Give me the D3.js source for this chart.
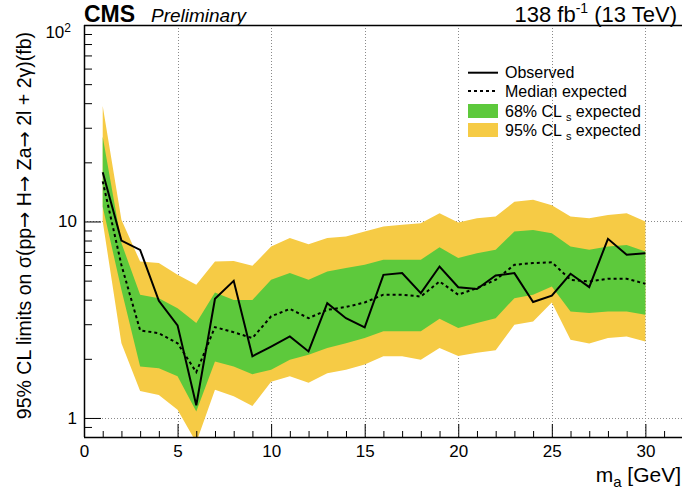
<!DOCTYPE html>
<html>
<head>
<meta charset="utf-8">
<script src="https://cdn.jsdelivr.net/npm/d3@7"></script>
<style>
  html, body { margin: 0; padding: 0; background: #fff; }
  svg { display: block; font-family: "Liberation Sans", Arial, Helvetica, sans-serif; }
</style>
</head>
<body>
<svg id="chart" width="682" height="490"></svg>
<script>
// ---- data ----
const massPoints = [1,2,3,4,5,6,7,8,9,10,11,12,13,14,15,16,17,18,19,20,21,22,23,24,25,26,27,28,29,30];
const observed = [17.8, 8.0, 7.17, 3.95, 2.96, 1.16, 4.04, 4.99, 2.06, 2.31, 2.60, 2.18, 3.84, 3.22, 2.89, 5.35, 5.46, 4.32, 5.90, 4.63, 4.53, 5.31, 5.46, 3.89, 4.19, 5.42, 4.63, 8.16, 6.77, 6.90];
const medianExpected = [16.0, 6.0, 2.79, 2.70, 2.40, 1.71, 2.90, 2.73, 2.55, 3.29, 3.59, 3.22, 3.55, 3.67, 3.87, 4.24, 4.24, 4.15, 4.95, 4.24, 4.58, 5.05, 6.02, 6.14, 6.20, 5.05, 4.95, 5.11, 5.11, 4.82];
const band68Up = [27.0, 7.76, 4.24, 4.07, 3.62, 3.04, 4.35, 3.99, 3.99, 5.05, 5.46, 5.05, 5.57, 5.79, 6.02, 6.38, 6.38, 6.38, 7.40, 6.51, 6.90, 7.17, 8.89, 9.06, 8.72, 7.45, 7.17, 7.45, 7.60, 7.03];
const band68Down = [11.9, 4.49, 1.83, 1.79, 1.63, 1.08, 1.94, 1.83, 1.67, 1.76, 1.98, 2.10, 2.27, 2.40, 2.55, 2.76, 2.76, 2.76, 3.20, 2.87, 3.04, 3.22, 4.07, 4.24, 4.67, 3.48, 3.42, 3.48, 3.48, 3.35];
const band95Up = [38.7, 10.2, 6.25, 6.14, 5.35, 4.76, 6.25, 6.30, 5.95, 7.45, 8.23, 7.66, 8.23, 8.38, 8.89, 9.42, 9.61, 9.80, 11.0, 9.87, 10.4, 10.6, 12.6, 12.9, 12.1, 10.6, 10.4, 10.8, 11.0, 10.0];
const band95Down = [10.0, 2.40, 1.37, 1.31, 1.10, 0.75, 1.39, 1.29, 1.15, 1.53, 1.63, 1.51, 1.69, 1.76, 1.87, 2.06, 2.06, 1.98, 2.27, 2.07, 2.15, 2.21, 2.98, 3.10, 3.87, 2.50, 2.39, 2.55, 2.60, 2.45];
const xTickLabels = [0, 5, 10, 15, 20, 25, 30];
const yTickLabels = [1, 10, 100];
const legendLabels = ["Observed", "Median expected", "68% CL", "95% CL"];

// ---- layout ----
const svg = d3.select("#chart");
const pLeft = 84, pRight = 682.8, pTop = 25, pBottom = 437;
const x = d3.scaleLinear().domain([0, 32]).range([pLeft, pRight]);
const y = d3.scaleLog().domain([0.8, 100]).range([pBottom, pTop]);

const GREEN = "#5dc93c", YELLOW = "#f6cb45";

svg.append("defs").append("clipPath").attr("id", "clip")
  .append("rect").attr("x", pLeft).attr("y", pTop).attr("width", pRight - pLeft).attr("height", pBottom - pTop);

// grid
const grid = svg.append("g").attr("stroke", "#8a8a8a").attr("stroke-width", 1).attr("stroke-dasharray", "1,2");
grid.selectAll("line.v").data(xTickLabels.filter(d => d > 0)).enter().append("line")
  .attr("x1", d => Math.round(x(d)) + 0.5).attr("x2", d => Math.round(x(d)) + 0.5)
  .attr("y1", pTop).attr("y2", pBottom);
grid.selectAll("line.h").data([1, 10]).enter().append("line")
  .attr("y1", d => Math.round(y(d)) + 0.5).attr("y2", d => Math.round(y(d)) + 0.5)
  .attr("x1", pLeft).attr("x2", pRight);

// bands
const rows = massPoints.map((m, i) => ({m, obs: observed[i], med: medianExpected[i],
  u68: band68Up[i], d68: band68Down[i], u95: band95Up[i], d95: band95Down[i]}));
const plot = svg.append("g").attr("clip-path", "url(#clip)");
plot.append("path").datum(rows).attr("fill", YELLOW)
  .attr("d", d3.area().x(d => x(d.m)).y0(d => y(d.d95)).y1(d => y(d.u95)));
plot.append("path").datum(rows).attr("fill", GREEN)
  .attr("d", d3.area().x(d => x(d.m)).y0(d => y(d.d68)).y1(d => y(d.u68)));
plot.append("path").datum(rows).attr("fill", "none").attr("stroke", "#000").attr("stroke-width", 2)
  .attr("stroke-dasharray", "3,3")
  .attr("d", d3.line().x(d => x(d.m)).y(d => y(d.med)));
plot.append("path").datum(rows).attr("fill", "none").attr("stroke", "#000").attr("stroke-width", 2)
  .attr("stroke-linejoin", "miter")
  .attr("d", d3.line().x(d => x(d.m)).y(d => y(d.obs)));

// axes
const xAxis = d3.axisBottom(x).tickValues(xTickLabels).tickSize(-13).tickPadding(8).tickFormat(d3.format("d"));
const gx = svg.append("g").attr("transform", `translate(0,${pBottom})`).call(xAxis);
gx.select(".domain").attr("d", `M${pLeft},0.5H${pRight}`).attr("stroke-width", 1.5);
gx.selectAll("text").attr("font-size", 17).attr("font-family", "Liberation Sans, Arial, sans-serif").attr("fill", "#000");
const xMinor = d3.range(1, 32).filter(v => v % 5 !== 0);
const gxm = svg.append("g").attr("transform", `translate(0,${pBottom})`)
  .call(d3.axisBottom(x).tickValues(xMinor).tickSize(-6).tickFormat(""));
gxm.select(".domain").remove();

const yAxis = d3.axisLeft(y).tickValues(yTickLabels).tickSize(-17).tickPadding(7).tickFormat(d => d === 100 ? "10" : String(d));
const gy = svg.append("g").attr("transform", `translate(${pLeft},0)`).call(yAxis);
gy.select(".domain").attr("d", `M0.5,${pTop}V${pBottom}`).attr("stroke-width", 1.5);
gy.selectAll("text").attr("font-size", 17).attr("font-family", "Liberation Sans, Arial, sans-serif").attr("fill", "#000");
gy.selectAll(".tick").filter(d => d === 100).select("text")
  .attr("dy", "0.75em").attr("x", -13)
  .append("tspan").attr("font-size", 12).attr("dy", "-0.55em").text("2");
const yMinor = [0.9, 2,3,4,5,6,7,8,9, 20,30,40,50,60,70,80,90];
const gym = svg.append("g").attr("transform", `translate(${pLeft},0)`)
  .call(d3.axisLeft(y).tickValues(yMinor).tickSize(-8).tickFormat(""));
gym.select(".domain").remove();

// top frame
svg.append("line").attr("x1", pLeft).attr("x2", pRight).attr("y1", pTop + 0.5).attr("y2", pTop + 0.5)
  .attr("stroke", "#000").attr("stroke-width", 1.5);

// titles
svg.append("text").attr("x", pLeft).attr("y", 22).attr("font-size", 23).attr("font-weight", "bold").text("CMS");
svg.append("text").attr("x", 151).attr("y", 22).attr("font-size", 19).attr("font-style", "italic").text("Preliminary");
const lumi = svg.append("text").attr("x", 677).attr("y", 22).attr("font-size", 22).attr("text-anchor", "end");
lumi.append("tspan").text("138 fb");
lumi.append("tspan").attr("font-size", 14).attr("dy", -9).text("-1");
lumi.append("tspan").attr("dy", 9).text(" (13 TeV)");

const xt = svg.append("text").attr("x", 681).attr("y", 482).attr("font-size", 21).attr("text-anchor", "end");
xt.append("tspan").text("m");
xt.append("tspan").attr("font-size", 15).attr("dy", 5).text("a");
xt.append("tspan").attr("dy", -5).text(" [GeV]");

const yTitleParts = ["95% CL limits on σ(pp", "→", " H", "→", " Za", "→", " 2l + 2γ)(fb)"];
const yt = svg.append("text").attr("transform", "translate(31,32) rotate(-90)").attr("text-anchor", "end")
  .attr("font-size", 19.5);
yTitleParts.forEach(p => {
  const s = yt.append("tspan").text(p);
  if (p === "→") s.attr("font-family", "DejaVu Sans");
});

// legend
const lg = svg.append("g").attr("font-size", 16);
const lx0 = 468, lx1 = 498, ltx = 505;
const rowY = [72.7, 91, 111, 130];
lg.append("line").attr("x1", lx0).attr("x2", lx1).attr("y1", rowY[0]).attr("y2", rowY[0]).attr("stroke", "#000").attr("stroke-width", 2);
lg.append("line").attr("x1", lx0).attr("x2", lx1).attr("y1", rowY[1]).attr("y2", rowY[1]).attr("stroke", "#000").attr("stroke-width", 2).attr("stroke-dasharray", "3,3");
lg.append("rect").attr("x", lx0).attr("y", rowY[2] - 7).attr("width", lx1 - lx0).attr("height", 14).attr("fill", GREEN);
lg.append("rect").attr("x", lx0).attr("y", rowY[3] - 7).attr("width", lx1 - lx0).attr("height", 14).attr("fill", YELLOW);
legendLabels.forEach((lab, i) => {
  const t = lg.append("text").attr("x", ltx).attr("y", rowY[i] + 5.5);
  t.append("tspan").text(lab);
  if (i >= 2) {
    t.append("tspan").attr("font-size", 11).attr("dx", 4).attr("dy", 4).text("s");
    t.append("tspan").attr("dy", -4).text(" expected");
  }
});
</script>
</body>
</html>
